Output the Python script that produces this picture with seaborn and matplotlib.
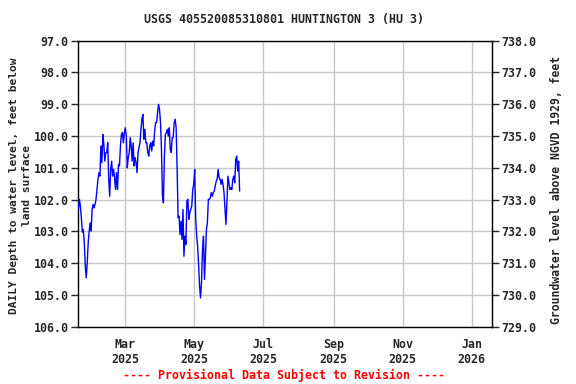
import numpy as np
import pandas as pd
import matplotlib
matplotlib.use("Agg")
import matplotlib.pyplot as plt
import matplotlib.dates as mdates
import seaborn as sns

title = "USGS 405520085310801 HUNTINGTON 3 (HU 3)"
left_label = "DAILY Depth to water level, feet below\nland surface"
right_label = "Groundwater level above NGVD 1929, feet"
footer = "---- Provisional Data Subject to Revision ----"

start_date = "2025-01-18 12:00"
end_date = "2025-06-10"
depth = [102.31, 101.99, 102.20, 102.57, 103.02, 102.94, 103.36, 104.09, 104.46, 103.99,
         103.36, 102.99, 102.73, 102.99, 102.31, 102.15, 102.26, 102.15, 101.99, 101.68,
         101.36, 101.15, 101.26, 100.31, 100.84, 99.95, 100.26, 100.79, 100.52, 100.52,
         100.21, 101.36, 101.89, 101.05, 100.79, 101.26, 101.05, 101.31, 101.68, 101.15,
         101.68, 100.89, 100.94, 100.31, 99.95, 99.89, 100.21, 99.89, 99.74, 100.00,
         101.00, 100.68, 100.52, 100.05, 100.31, 100.79, 100.21, 100.94, 100.68, 100.84,
         101.15, 100.52, 100.37, 100.21, 99.79, 99.47, 99.32, 100.10, 99.79, 100.21,
         100.21, 100.52, 100.63, 100.31, 100.21, 100.47, 100.16, 100.31, 99.84, 99.58,
         99.58, 99.26, 99.00, 99.16, 99.58, 100.42, 101.89, 102.10, 100.63, 99.95,
         99.89, 99.79, 100.00, 99.74, 100.42, 100.52, 100.05, 100.05, 99.58, 99.47,
         99.74, 101.00, 102.57, 102.52, 103.10, 102.68, 103.25, 102.31, 103.78, 103.15,
         103.41, 102.05, 101.99, 102.62, 102.41, 102.31, 102.20, 101.68, 101.52, 101.05,
         102.57, 103.15, 103.46, 104.04, 104.72, 105.09, 104.57, 103.57, 103.15, 104.51,
         103.78, 102.94, 102.73, 101.99, 101.99, 101.94, 101.78, 101.89, 101.78, 101.73,
         101.57, 101.42, 101.36, 101.05, 101.31, 101.36, 101.52, 101.36, 101.52, 101.78,
         102.31, 102.78, 102.10, 101.26, 101.47, 101.68, 101.63, 101.68, 101.36, 101.26,
         101.47, 100.73, 100.63, 101.10, 100.79, 101.73]

datum_offset = 835.0
y_ticks = [97.0, 98.0, 99.0, 100.0, 101.0, 102.0, 103.0, 104.0, 105.0, 106.0]
x_tick_dates = ["2025-03-01", "2025-05-01", "2025-07-01", "2025-09-01", "2025-11-01", "2026-01-01"]
x_tick_labels = ["Mar\n2025", "May\n2025", "Jul\n2025", "Sep\n2025", "Nov\n2025", "Jan\n2026"]
x_limits = ["2025-01-18 10:00", "2026-01-19"]

sns.set_style("white")
plt.rcParams['font.family'] = ['DejaVu Sans Mono', 'DejaVu Sans']
plt.rcParams['font.weight'] = 'bold'

df = pd.DataFrame({
    "date": pd.date_range(start_date, end_date, periods=len(depth)),
    "depth": depth,
})

fig = plt.figure(figsize=(5.76, 3.84), dpi=100)
ax = fig.add_axes([0.136, 0.149, 0.718, 0.745])

sns.lineplot(data=df, x="date", y="depth", ax=ax, color="#0000ff", linewidth=1.0, zorder=3)

ax.set_xlim(pd.Timestamp(x_limits[0]), pd.Timestamp(x_limits[1]))
ax.set_ylim(106.0, 97.0)
ax.set_yticks(y_ticks)
ax.set_yticklabels([f"{v:.1f}" for v in y_ticks])
ax.set_xticks([pd.Timestamp(d) for d in x_tick_dates])
ax.set_xticklabels(x_tick_labels)
ax.grid(True, color="#c8c8c8", linewidth=1.0)
ax.set_axisbelow(True)
for s in ax.spines.values():
    s.set_color("black")
    s.set_linewidth(1.0)
ax.tick_params(axis="y", direction="out", length=5, width=1, labelsize=8.4, pad=2, left=True)
ax.tick_params(axis="x", direction="out", length=0, labelsize=8.4, pad=8, bottom=True)
ax.set_xlabel("")
ax.set_ylabel("")

sec = ax.secondary_yaxis("right", functions=(lambda d: datum_offset - d, lambda e: datum_offset - e))
sec_ticks = [datum_offset - v for v in y_ticks]
sec.set_yticks(sec_ticks)
sec.set_yticklabels([f"{v:.1f}" for v in sec_ticks])
sec.tick_params(direction="out", length=5, width=1, labelsize=8.4, pad=2)
sec.set_ylabel("")

fig.text(20.5 / 576, 1 - 186 / 384, left_label, rotation=90, ha="center", va="center",
         fontsize=8.1, fontweight="bold", linespacing=1.35, multialignment="center")
fig.text(557 / 576, 1 - 190 / 384, right_label, rotation=90, ha="center", va="center",
         fontsize=8.3, fontweight="bold")
fig.text(0.493, 0.95, title, ha="center", va="center", fontsize=8.4, fontweight="bold")
fig.text(0.493, 0.023, footer, ha="center", va="center", fontsize=8.4, fontweight="bold", color="red")

fig.savefig("out.png", dpi=100)
